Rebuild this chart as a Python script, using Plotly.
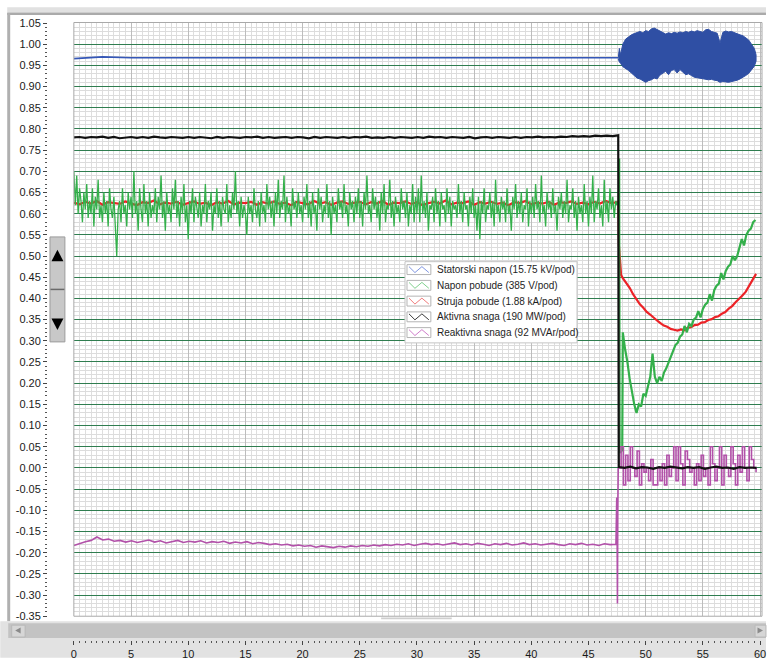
import numpy as np
import plotly.graph_objects as go

# ---------------- data ----------------
series_names = [
    "Statorski napon (15.75 kV/pod)",
    "Napon pobude (385 V/pod)",
    "Struja pobude (1.88 kA/pod)",
    "Aktivna snaga (190 MW/pod)",
    "Reaktivna snaga (92 MVAr/pod)",
]

x_tick_vals = list(range(0, 61, 5))
y_tick_vals = [(k - 35) / 100 for k in range(0, 141, 5)]
y_tick_text = ["%.2f" % v for v in y_tick_vals]

# Statorski napon: flat part (0 .. 47.6 s) and oscillation envelope afterwards
blue_pre = [0.966, 0.970, 0.968, 0.968, 0.968, 0.967, 0.968, 0.968, 0.967, 0.968,
            0.968, 0.967, 0.968, 0.968, 0.967, 0.968, 0.968, 0.967, 0.968, 0.968]
blue_env_t = [47.6, 47.7, 47.8] + [round(48 + 0.25 * i, 2) for i in range(47)] + [59.65]
blue_upper = [0.968, 0.990, 0.975,
              1.000, 1.012, 1.018, 1.022, 1.025, 1.028, 1.030, 1.027, 1.032, 1.030,
              1.036, 1.038, 1.034, 1.030, 1.026, 1.024, 1.027, 1.025, 1.028, 1.026,
              1.029, 1.027, 1.030, 1.028, 1.031, 1.029, 1.032, 1.030, 1.028, 1.034,
              1.035, 1.030, 1.028, 1.026, 1.003, 1.028, 1.031, 1.029, 1.030, 1.027,
              1.025, 1.022, 1.020, 1.016, 1.010, 1.000, 0.990,
              0.975]
blue_lower = [0.965, 0.958, 0.955,
              0.947, 0.943, 0.938, 0.932, 0.925, 0.920, 0.918, 0.915, 0.910, 0.914,
              0.916, 0.920, 0.918, 0.927, 0.932, 0.936, 0.928, 0.938, 0.940, 0.932,
              0.940, 0.935, 0.928, 0.930, 0.926, 0.922, 0.920, 0.919, 0.918, 0.917,
              0.916, 0.917, 0.915, 0.914, 0.910, 0.912, 0.911, 0.910, 0.911, 0.913,
              0.915, 0.918, 0.921, 0.926, 0.931, 0.938, 0.948,
              0.960]

# Napon pobude (0 .. 47.5 s, sampled every 0.125 s)
green_pre = [
    0.70, 0.62, 0.69, 0.60, 0.66, 0.63, 0.58, 0.65, 0.61, 0.67, 0.59, 0.63, 0.60, 0.66, 0.57, 0.64, 0.61, 0.68, 0.59, 0.62,
    0.58, 0.65, 0.60, 0.63, 0.57, 0.66, 0.61, 0.59, 0.64, 0.55, 0.50, 0.61, 0.63, 0.58, 0.66, 0.60, 0.62, 0.57, 0.65, 0.61,
    0.64, 0.59, 0.70, 0.60, 0.63, 0.56, 0.66, 0.61, 0.58, 0.67, 0.60, 0.63, 0.57, 0.65, 0.59, 0.62, 0.60, 0.66, 0.58, 0.64,
    0.61, 0.69, 0.59, 0.63, 0.56, 0.65, 0.60, 0.62, 0.58, 0.66, 0.61, 0.68, 0.59, 0.63, 0.57, 0.64, 0.60, 0.67, 0.58, 0.62,
    0.54, 0.63, 0.60, 0.66, 0.58, 0.64, 0.61, 0.59, 0.65, 0.57, 0.62, 0.60, 0.67, 0.58, 0.63, 0.61, 0.65, 0.56, 0.62, 0.60,
    0.66, 0.59, 0.63, 0.57, 0.64, 0.61, 0.60, 0.67, 0.58, 0.62, 0.59, 0.65, 0.61, 0.70, 0.60, 0.63, 0.57, 0.64, 0.59, 0.62,
    0.60, 0.55, 0.64, 0.60, 0.62, 0.58, 0.66, 0.61, 0.59, 0.63, 0.57, 0.65, 0.60, 0.62, 0.58, 0.67, 0.61, 0.64, 0.59, 0.63,
    0.57, 0.65, 0.60, 0.68, 0.59, 0.63, 0.61, 0.69, 0.58, 0.64, 0.60, 0.62, 0.57, 0.66, 0.61, 0.63, 0.59, 0.65, 0.60, 0.62,
    0.58, 0.64, 0.61, 0.67, 0.59, 0.63, 0.57, 0.65, 0.60, 0.62, 0.56, 0.66, 0.61, 0.64, 0.58, 0.62, 0.60, 0.67, 0.59, 0.63,
    0.55, 0.64, 0.60, 0.62, 0.58, 0.66, 0.61, 0.63, 0.59, 0.67, 0.60, 0.62, 0.57, 0.65, 0.61, 0.63, 0.58, 0.64, 0.60, 0.66,
    0.59, 0.63, 0.57, 0.65, 0.61, 0.69, 0.60, 0.62, 0.58, 0.66, 0.61, 0.64, 0.59, 0.63, 0.56, 0.65, 0.60, 0.67, 0.58, 0.62,
    0.61, 0.68, 0.59, 0.63, 0.57, 0.64, 0.60, 0.62, 0.58, 0.66, 0.61, 0.63, 0.59, 0.65, 0.57, 0.62, 0.60, 0.67, 0.58, 0.64,
    0.60, 0.66, 0.58, 0.69, 0.60, 0.63, 0.59, 0.65, 0.56, 0.62, 0.61, 0.64, 0.58, 0.66, 0.60, 0.63, 0.57, 0.65, 0.61, 0.62,
    0.58, 0.66, 0.60, 0.64, 0.57, 0.63, 0.61, 0.62, 0.59, 0.67, 0.60, 0.63, 0.58, 0.65, 0.61, 0.62, 0.57, 0.64, 0.60, 0.66,
    0.59, 0.62, 0.56, 0.64, 0.54, 0.63, 0.60, 0.66, 0.58, 0.62, 0.61, 0.65, 0.59, 0.63, 0.57, 0.68, 0.60, 0.62, 0.58, 0.64,
    0.61, 0.63, 0.58, 0.66, 0.60, 0.62, 0.56, 0.64, 0.61, 0.67, 0.59, 0.63, 0.60, 0.65, 0.58, 0.62, 0.61, 0.66, 0.57, 0.63,
    0.60, 0.64, 0.59, 0.67, 0.61, 0.63, 0.58, 0.69, 0.60, 0.62, 0.57, 0.65, 0.61, 0.63, 0.59, 0.66, 0.60, 0.62, 0.56, 0.64,
    0.61, 0.65, 0.59, 0.63, 0.60, 0.68, 0.58, 0.62, 0.61, 0.66, 0.59, 0.63, 0.56, 0.64, 0.60, 0.62, 0.58, 0.67, 0.60, 0.63,
    0.57, 0.64, 0.60, 0.69, 0.58, 0.63, 0.61, 0.66, 0.59, 0.62, 0.57, 0.68, 0.60, 0.63, 0.58, 0.66, 0.61, 0.64, 0.59, 0.63,
    0.62]
green_step_t = [47.6, 47.72, 47.76, 47.95]
green_step = [0.63, 0.73, 0.035, 0.04]
green_post = [0.32, 0.28, 0.25, 0.21, 0.18, 0.15, 0.13, 0.15, 0.145, 0.175,
              0.17, 0.195, 0.215, 0.27, 0.215, 0.20, 0.215, 0.205, 0.225, 0.235,
              0.25, 0.26, 0.275, 0.29, 0.295, 0.31, 0.315, 0.335, 0.32, 0.34,
              0.335, 0.35, 0.355, 0.37, 0.355, 0.375, 0.385, 0.39, 0.41, 0.395,
              0.42, 0.43, 0.435, 0.46, 0.445, 0.465, 0.475, 0.48, 0.50, 0.49,
              0.50, 0.52, 0.54, 0.525, 0.55, 0.56, 0.565, 0.58, 0.585]

# Struja pobude
red_pre = [0.626, 0.622, 0.628, 0.624, 0.630, 0.621, 0.627, 0.625, 0.623, 0.629, 0.624, 0.620,
           0.627, 0.625, 0.631, 0.622, 0.626, 0.624, 0.628, 0.621, 0.625, 0.629, 0.623, 0.626,
           0.620, 0.627, 0.624, 0.630, 0.622, 0.626, 0.625, 0.628, 0.621, 0.627, 0.624, 0.629,
           0.623, 0.626, 0.620, 0.628, 0.625, 0.622, 0.630, 0.624, 0.627, 0.621, 0.626, 0.629,
           0.623, 0.625, 0.628, 0.622, 0.627, 0.624, 0.630, 0.621, 0.626, 0.625, 0.629, 0.623,
           0.627, 0.620, 0.625, 0.628, 0.624, 0.631, 0.622, 0.626, 0.625, 0.629, 0.621, 0.627,
           0.624, 0.628, 0.623, 0.626, 0.620, 0.627, 0.625, 0.630, 0.622, 0.626, 0.624, 0.628,
           0.621, 0.627, 0.625, 0.629, 0.623, 0.626, 0.622, 0.628, 0.624, 0.630, 0.625, 0.627]
red_step_t = [47.62, 47.66, 47.85]
red_step = [0.625, 0.525, 0.455]
red_post = [0.448, 0.437, 0.425, 0.410, 0.398, 0.386, 0.378, 0.368, 0.362, 0.354,
            0.348, 0.342, 0.336, 0.333, 0.328, 0.326, 0.324, 0.327, 0.325, 0.331,
            0.332, 0.337, 0.338, 0.343, 0.344, 0.349, 0.351, 0.356, 0.358, 0.364,
            0.368, 0.376, 0.382, 0.391, 0.398, 0.407, 0.416, 0.430, 0.445, 0.458]

# Aktivna snaga
black_pre = [0.780, 0.781, 0.779, 0.781, 0.780, 0.782, 0.779, 0.781, 0.778, 0.780, 0.781, 0.779,
             0.781, 0.779, 0.782, 0.780, 0.779, 0.781, 0.780, 0.779, 0.781, 0.779, 0.781, 0.780,
             0.778, 0.781, 0.779, 0.781, 0.780, 0.779, 0.781, 0.780, 0.782, 0.779, 0.781, 0.779,
             0.780, 0.781, 0.779, 0.781, 0.780, 0.778, 0.781, 0.779, 0.781, 0.780, 0.779, 0.781,
             0.779, 0.781, 0.780, 0.782, 0.779, 0.780, 0.779, 0.781, 0.779, 0.781, 0.780, 0.779,
             0.781, 0.779, 0.782, 0.780, 0.781, 0.779, 0.781, 0.780, 0.779, 0.781, 0.778, 0.780,
             0.781, 0.779, 0.781, 0.780, 0.779, 0.781, 0.779, 0.781, 0.780, 0.782, 0.780, 0.781,
             0.780, 0.782, 0.781, 0.783, 0.782, 0.783, 0.782, 0.784, 0.783, 0.784, 0.783, 0.785]
black_post = [0.002, 0.000, 0.003, -0.001, 0.002, 0.001, -0.002, 0.002, 0.000, 0.003, 0.001, -0.001,
              0.002, 0.000, 0.002, -0.002, 0.001, 0.003, 0.000, 0.001, -0.002, 0.002, 0.000, 0.001, 0.000]

# Reaktivna snaga
magenta_pre = [-0.183, -0.178, -0.174, -0.171, -0.163, -0.170, -0.168, -0.173, -0.171, -0.175,
               -0.172, -0.176, -0.173, -0.170, -0.175, -0.172, -0.177, -0.174, -0.171, -0.176,
               -0.173, -0.175, -0.172, -0.177, -0.174, -0.176, -0.173, -0.178, -0.175, -0.177,
               -0.174, -0.179, -0.176, -0.178, -0.181, -0.179, -0.182, -0.180, -0.184, -0.182,
               -0.185, -0.183, -0.187, -0.184, -0.186, -0.188, -0.185, -0.187, -0.184, -0.186,
               -0.183, -0.185, -0.182, -0.184, -0.181, -0.183, -0.180, -0.182, -0.179, -0.183,
               -0.180, -0.178, -0.181, -0.179, -0.182, -0.180, -0.177, -0.181, -0.179, -0.182,
               -0.178, -0.180, -0.183, -0.179, -0.181, -0.178, -0.182, -0.180, -0.177, -0.181,
               -0.179, -0.182, -0.180, -0.178, -0.181, -0.183, -0.179, -0.181, -0.178, -0.182,
               -0.180, -0.183, -0.179, -0.181, -0.180]
magenta_step_t = [47.47, 47.5, 47.53, 47.56, 47.6]
magenta_step = [-0.07, -0.13, -0.32, -0.11, 0.0]
magenta_post = [0.00, 0.05, -0.04, 0.03, -0.03, 0.05, 0.00, -0.02, 0.04, -0.04,
                0.01, -0.01, 0.00, -0.03, 0.02, -0.04, -0.04, 0.00, -0.03, 0.01,
                -0.04, 0.03, -0.02, 0.00, 0.05, -0.03, 0.05, 0.01, -0.04, 0.04,
                0.02, -0.01, 0.00, -0.04, 0.01, -0.03, 0.03, -0.02, 0.00, -0.04,
                0.05, 0.01, -0.03, 0.00, 0.05, -0.04, 0.03, 0.00, -0.02, 0.05,
                0.01, -0.04, 0.03, -0.01, 0.05, 0.00, -0.03, 0.05, 0.02, 0.00, -0.01]

# ---------------- styling ----------------
BLUE = "#3557b7"
BLUE_D = "#2f4fa4"
GREEN = "#34b04b"
RED = "#ec2327"
BLACK = "#111111"
MAGENTA = "#b251a9"
ICON_COLORS = ["#8096e2", "#7fd08d", "#f07c7c", "#3c3c3c", "#cf7ccb"]
FONT = "Liberation Sans"

W, H = 770, 664
ML, MR, MT, MB = 47, 4, 23, 18
PW = W - ML - MR
PH = H - MT - MB


def fx(px):
    return (px - ML) / PW


def fy(py):
    return (H - MB - py) / PH


def rect(x0, y0, x1, y1, fill, line=None, layer="below", lw=1):
    return dict(type="rect", xref="paper", yref="paper",
                x0=fx(x0), x1=fx(x1), y0=fy(y1), y1=fy(y0),
                fillcolor=fill, layer=layer,
                line=dict(width=lw if line else 0, color=line or fill))


def path(points, fill=None, line=None, lw=1, layer="above"):
    d = "M " + " L ".join("%.5f,%.5f" % (fx(a), fy(b)) for a, b in points)
    if fill:
        d += " Z"
    return dict(type="path", xref="paper", yref="paper", path=d, layer=layer,
                fillcolor=fill or "rgba(0,0,0,0)",
                line=dict(width=lw if line else 0, color=line or "rgba(0,0,0,0)"))


fig = go.Figure()

# Statorski napon
t_blue_pre = np.linspace(0, 47.6, len(blue_pre))
fig.add_trace(go.Scatter(x=t_blue_pre, y=blue_pre, mode="lines", name=series_names[0],
                         line=dict(color=BLUE, width=1.6), showlegend=False, hoverinfo="skip"))
env_t = np.array(blue_env_t)
fig.add_trace(go.Scatter(x=np.concatenate([env_t, env_t[::-1]]),
                         y=np.concatenate([np.array(blue_upper), np.array(blue_lower)[::-1]]),
                         mode="lines", fill="toself", fillcolor=BLUE_D, name=series_names[0],
                         line=dict(color=BLUE_D, width=1), showlegend=False, hoverinfo="skip"))

# Struja pobude (under the green trace)
r_t = np.concatenate([np.linspace(0, 47.5, len(red_pre)), red_step_t,
                      np.linspace(48.0, 59.65, len(red_post))])
r_v = np.concatenate([red_pre, red_step, red_post])
fig.add_trace(go.Scatter(x=r_t, y=r_v, mode="lines", name=series_names[2],
                         line=dict(color=RED, width=2.2), showlegend=False, hoverinfo="skip"))

# Napon pobude
g_t1 = np.concatenate([np.linspace(0, 47.5, len(green_pre)), green_step_t])
g_v1 = np.concatenate([green_pre, green_step])
fig.add_trace(go.Scatter(x=g_t1, y=g_v1, mode="lines", name=series_names[1],
                         line=dict(color=GREEN, width=1.3), showlegend=False, hoverinfo="skip"))
g_t2 = np.concatenate([[green_step_t[-1]], np.linspace(48.0, 59.6, len(green_post))])
g_v2 = np.concatenate([[green_step[-1]], green_post])
fig.add_trace(go.Scatter(x=g_t2, y=g_v2, mode="lines", name=series_names[1],
                         line=dict(color=GREEN, width=2.2), showlegend=False, hoverinfo="skip"))

# Reaktivna snaga
m_t1 = np.concatenate([np.linspace(0, 47.4, len(magenta_pre)), magenta_step_t])
m_v1 = np.concatenate([magenta_pre, magenta_step])
fig.add_trace(go.Scatter(x=m_t1, y=m_v1, mode="lines", name=series_names[4],
                         line=dict(color=MAGENTA, width=1.6), showlegend=False, hoverinfo="skip"))
m_t2 = np.concatenate([[magenta_step_t[-1]], np.linspace(47.65, 59.65, len(magenta_post))])
m_v2 = np.concatenate([[magenta_step[-1]], magenta_post])
fig.add_trace(go.Scatter(x=m_t2, y=m_v2, mode="lines", name=series_names[4],
                         line=dict(color=MAGENTA, width=1.6, shape="hv"), showlegend=False,
                         hoverinfo="skip"))

# Aktivna snaga
b_t = np.concatenate([np.linspace(0, 47.6, len(black_pre)), np.linspace(47.65, 59.7, len(black_post))])
b_v = np.concatenate([black_pre, black_post])
fig.add_trace(go.Scatter(x=b_t, y=b_v, mode="lines", name=series_names[3],
                         line=dict(color=BLACK, width=2.2), showlegend=False, hoverinfo="skip"))

# ---------------- window decoration ----------------
shapes = [
    rect(7, 7, 770, 12.5, "#e1e1e1"),
    rect(7, 12.5, 770, 15, "#aaaaaa"),
    rect(7, 13, 10, 627, "#b0b0b0"),
    rect(0, 627, 770, 664, "#e2e2e2"),
    rect(8, 629, 770, 644, "#c3c3c3"),
    rect(11.5, 631, 25, 643, "#d6d6d6", line="#b8b8b8"),
    rect(759, 631, 770, 643, "#d6d6d6", line="#b8b8b8"),
    rect(383, 623.2, 454, 625, "#cfcfcf"),
    rect(74, 22.5, 766, 622, "rgba(0,0,0,0)", line="#a9a9a9", layer="above"),
    rect(50, 239, 65, 345, "#c8c8c8", line="#9c9c9c", layer="above"),
]
shapes.append(path([(15, 636.5), (20.5, 633.5), (20.5, 639.5)], fill="#8a8a8a"))
shapes.append(path([(761.5, 633.5), (767, 636.5), (761.5, 639.5)], fill="#8a8a8a"))
shapes.append(path([(50.5, 292), (64.5, 292)], line="#6a6a6a", lw=1.5))
shapes.append(path([(51.5, 263.5), (57.5, 252), (63.5, 263.5)], fill="#000000"))
shapes.append(path([(51.5, 321.5), (63.5, 321.5), (57.5, 333)], fill="#000000"))

# custom legend (box, icons, labels)
shapes.append(rect(407, 264, 580, 346, "#ffffff", line="#c4c4c4", layer="above"))
annotations = []
for i, (nm, col) in enumerate(zip(series_names, ICON_COLORS)):
    c = 272.0 + 15.9 * i
    shapes.append(rect(409, c - 5, 433, c + 5, "#ffffff", line="#b4b4b4", layer="above"))
    shapes.append(path([(411, c - 3), (417, c + 3), (424, c - 3), (431, c + 3)], line=col, lw=1))
    annotations.append(dict(xref="paper", yref="paper", x=fx(437), y=fy(c), text=nm,
                            showarrow=False, xanchor="left", yanchor="middle",
                            font=dict(family=FONT, size=10, color="#1e1e1e")))

fig.update_layout(
    width=W, height=H,
    margin=dict(l=ML, r=MR, t=MT, b=MB, pad=0),
    paper_bgcolor="#ffffff", plot_bgcolor="#ffffff",
    showlegend=False,
    shapes=shapes, annotations=annotations,
    font=dict(family=FONT, size=11, color="#1a1a1a"),
    xaxis=dict(domain=[fx(74), 1.0], range=[0, 60.17], anchor="free", position=0,
               tickmode="array", tickvals=x_tick_vals, ticktext=[str(v) for v in x_tick_vals],
               ticks="outside", ticklen=4, tickwidth=1, tickcolor="#444444",
               ticklabeloverflow="allow",
               showgrid=True, gridcolor="#bdbdbd", gridwidth=1,
               showline=False, zeroline=False,
               tickfont=dict(family=FONT, size=11, color="#1a1a1a"),
               minor=dict(tickmode="linear", tick0=0, dtick=0.5, ticks="outside", ticklen=2,
                          tickcolor="#555555", showgrid=True, gridcolor="#dedede", gridwidth=1)),
    yaxis=dict(domain=[fy(622), 1.0], range=[-0.35, 1.05], anchor="free", position=0,
               tickmode="array", tickvals=y_tick_vals, ticktext=y_tick_text,
               ticks="outside", ticklen=4, tickwidth=1, tickcolor="#444444",
               showgrid=True, gridcolor="#2f7d4f", gridwidth=1,
               showline=False, zeroline=False,
               tickfont=dict(family=FONT, size=11, color="#1a1a1a"),
               minor=dict(tickmode="linear", tick0=0, dtick=0.01, ticks="outside", ticklen=2,
                          tickcolor="#555555", showgrid=True, gridcolor="#dcdcdc", gridwidth=1)),
)

post = "document.body.style.margin='0';"
fig.write_html("out.html", config={"displayModeBar": False}, post_script=post)
